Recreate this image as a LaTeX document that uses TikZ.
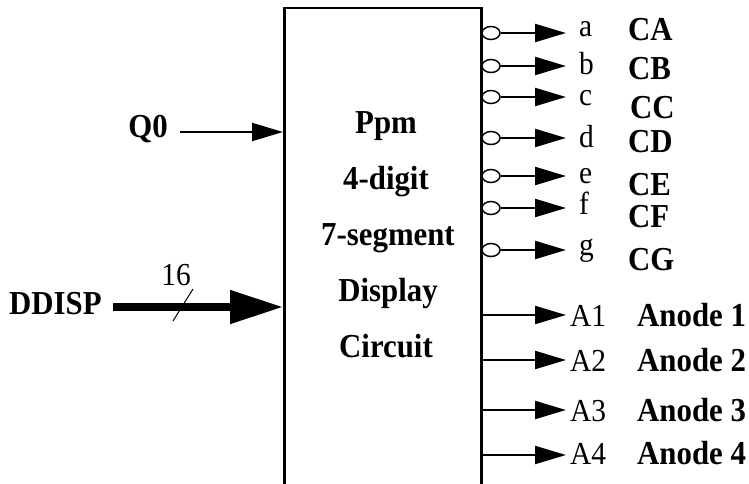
\documentclass[tikz,border=0pt]{standalone}
\usepackage{fontspec}
\setmainfont[FakeStretch=0.92]{Liberation Serif}
\usetikzlibrary{arrows.meta,shapes.geometric}
\begin{document}
\begin{tikzpicture}[x=1pt,y=-1pt,
  lbl/.style={inner sep=0pt, font=\fontsize{32}{32}\selectfont},
  blbl/.style={inner sep=0pt, font=\fontsize{33.5}{33.5}\selectfont\bfseries},
  wire/.style={line width=2pt, -{Triangle[length=31pt,width=18pt]}},
  bus/.style={line width=8pt, -{Triangle[length=53pt,width=32pt]}},
  bubble/.style={ellipse, draw, line width=1.5pt, minimum width=18pt, minimum height=13pt, inner sep=0pt},
]
\useasboundingbox (0,0) rectangle (749,484);
\clip (0,0) rectangle (749,484);
% main block (its bottom edge lies below the picture)
\node[draw, line width=2.5pt, minimum width=197pt, minimum height=530pt, inner sep=0pt, anchor=north west] (box) at (283,7) {};
% block text
\node[blbl, anchor=base] (t1) at (386,134) {Ppm};
\node[blbl, anchor=base] (t2) at (386,189) {4-digit};
\node[blbl, anchor=base] (t3) at (388,245) {7-segment};
\node[blbl, anchor=base] (t4) at (388,301) {Display};
\node[blbl, anchor=base] (t5) at (386,357) {Circuit};
% Q0 input
\node[blbl, anchor=base] (q0) at (148,138) {Q0};
\coordinate (q0s) at (180,132);
\draw[wire] (q0s) -- (box.west |- q0s);
% DDISP bus input
\node[blbl, anchor=base west] (dd) at (9,314) {DDISP};
\coordinate (dds) at (113,307);
\draw[bus] (dds) -- (box.west |- dds);
\coordinate (sl1) at (173,321);
\coordinate (sl2) at (193,289);
\draw[line width=1pt] (sl1) -- (sl2);
\node[lbl, anchor=base] (n16) at (176,285) {16};
% segment outputs
\foreach \n/\y/\lb/\C/\cb/\cx in {a/33/37/CA/41/628, b/66/75/CB/80/628, c/97/106/CC/118/630, d/138/147/CD/153/628, e/176/183/CE/195/628, f/208/214/CF/227/628, g/250/255/CG/270/628}{
  \node[bubble] (o\n) at (491,\y) {};
  \coordinate (t\n) at (566,\y);
  \draw[wire] (o\n.east) -- (t\n);
  \node[lbl, anchor=base west] (l\n) at (579,\lb) {\n};
  \node[blbl, anchor=base west] (c\n) at (\cx,\cb) {\C};
}
% anode outputs
\foreach \k/\y/\b in {1/315/326, 2/360/371, 3/410/421, 4/455/464}{
  \coordinate (ta\k) at (566,\y);
  \draw[wire] (box.east |- ta\k) -- (ta\k);
  \node[lbl, anchor=base west] (la\k) at (570,\b) {A\k};
  \node[blbl, anchor=base west] (an\k) at (637,\b) {Anode \k};
}
\end{tikzpicture}
\end{document}
